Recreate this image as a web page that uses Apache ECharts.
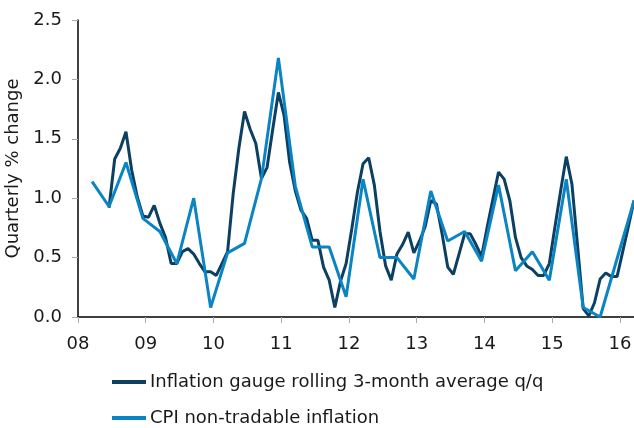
<!DOCTYPE html>
<html>
<head>
<meta charset="utf-8">
<script src="https://cdn.jsdelivr.net/npm/echarts@6/dist/echarts.min.js"></script>
<style>
  html, body { margin: 0; padding: 0; background: #fff; }
  #chart { width: 634px; height: 428px; }
</style>
</head>
<body>
<div id="chart"></div>
<script>
// ---- Data ----
const seriesNames = ['Inflation gauge rolling 3-month average q/q', 'CPI non-tradable inflation'];
const xTickYears = [2008, 2009, 2010, 2011, 2012, 2013, 2014, 2015, 2016];
const xTickLabels = ['08', '09', '10', '11', '12', '13', '14', '15', '16'];
const yTickLabels = ['0.0', '0.5', '1.0', '1.5', '2.0', '2.5'];

// Monthly, starting June 2008
const gaugeStart = { year: 2008, month: 6 };
const gaugeValues = [
  0.92, 1.33, 1.42, 1.56, 1.24, 1.01, 0.85, 0.84, 0.94, 0.79, 0.67, 0.45,
  0.45, 0.55, 0.575, 0.53, 0.45, 0.38, 0.38, 0.35, 0.45, 0.55, 1.04, 1.42,
  1.73, 1.58, 1.46, 1.165, 1.26, 1.58, 1.89, 1.70, 1.30, 1.06, 0.90, 0.83,
  0.645, 0.645, 0.42, 0.31, 0.08, 0.30, 0.45, 0.74, 1.05, 1.29, 1.34, 1.11,
  0.72, 0.43, 0.31, 0.53, 0.61, 0.715, 0.54, 0.64, 0.76, 0.98, 0.95, 0.70,
  0.42, 0.36, 0.53, 0.70, 0.70, 0.61, 0.51, 0.76, 0.99, 1.22, 1.16, 0.98,
  0.67, 0.50, 0.43, 0.40, 0.35, 0.35, 0.45, 0.76, 1.06, 1.35, 1.12, 0.60,
  0.07, 0.01, 0.12, 0.32, 0.37, 0.34, 0.34, 0.55, 0.76, 0.98
];

// Quarterly (Mar, Jun, Sep, Dec), starting March 2008
const cpiStart = { year: 2008, month: 3 };
const cpiValues = [
  1.14, 0.93, 1.30, 0.83,
  0.72, 0.45, 1.00, 0.08,
  0.54, 0.62, 1.165, 2.18,
  1.10, 0.59, 0.59, 0.17,
  1.16, 0.50, 0.50, 0.32,
  1.06, 0.64, 0.72, 0.47,
  1.11, 0.39, 0.55, 0.31,
  1.16, 0.08, 0.00, 0.49,
  0.98
];

// ---- Build ----
function toDecimal(year, month) { return year + (month - 0.5) / 12; }
function buildSeries(start, stepMonths, values) {
  return values.map((v, i) => {
    const m0 = start.month - 1 + i * stepMonths;
    const y = start.year + Math.floor(m0 / 12);
    const m = (m0 % 12) + 1;
    return [toDecimal(y, m), v];
  });
}
const gaugeData = buildSeries(gaugeStart, 1, gaugeValues);
const cpiData = buildSeries(cpiStart, 3, cpiValues);
const xMax = gaugeData[gaugeData.length - 1][0];

const FONT = 'DejaVu Sans';
const FS = 18;
const TXT = '#1a1a1a';
const DARK = '#0c4063';
const LIGHT = '#0a84c2';

function legendFor(name, top) {
  return {
    orient: 'horizontal',
    left: 112,
    top: top,
    padding: 0,
    icon: 'rect',
    itemWidth: 34,
    itemHeight: 4,
    data: [name],
    textStyle: { fontFamily: FONT, fontSize: FS, color: TXT, lineHeight: 20, padding: [0, 0, 0, -1] }
  };
}

const chart = echarts.init(document.getElementById('chart'), null, { renderer: 'canvas' });
chart.setOption({
  animation: false,
  backgroundColor: '#ffffff',
  textStyle: { fontFamily: FONT, color: TXT },
  grid: { left: 78, right: 0, top: 20, bottom: 111, containLabel: false, outerBoundsMode: 'none' },
  legend: [legendFor(seriesNames[0], 372), legendFor(seriesNames[1], 408)],
  xAxis: {
    type: 'value',
    min: 2008,
    max: xMax,
    interval: 1,
    splitLine: { show: false },
    axisLine: { show: true, onZero: false, lineStyle: { color: '#000', width: 1.5 } },
    axisTick: { show: true, customValues: xTickYears, length: 6, lineStyle: { color: '#aaa' } },
    axisLabel: {
      customValues: xTickYears,
      formatter: v => xTickLabels[xTickYears.indexOf(Math.round(v))] || '',
      fontFamily: FONT, fontSize: FS, color: TXT, margin: 18
    }
  },
  yAxis: {
    type: 'value',
    min: 0,
    max: 2.5,
    interval: 0.5,
    name: 'Quarterly % change',
    nameLocation: 'middle',
    nameGap: 50,
    nameTextStyle: { fontFamily: FONT, fontSize: FS, color: TXT },
    splitLine: { show: false },
    axisLine: { show: true, lineStyle: { color: '#000', width: 1.5 } },
    axisTick: { show: true, length: 6, lineStyle: { color: '#aaa' } },
    axisLabel: {
      formatter: v => yTickLabels[Math.round(v * 2)],
      fontFamily: FONT, fontSize: FS, color: TXT, margin: 16
    }
  },
  series: [
    {
      name: seriesNames[0],
      type: 'line',
      data: gaugeData,
      showSymbol: false,
      symbol: 'none',
      lineStyle: { color: DARK, width: 3 },
      itemStyle: { color: DARK }
    },
    {
      name: seriesNames[1],
      type: 'line',
      data: cpiData,
      showSymbol: false,
      symbol: 'none',
      lineStyle: { color: LIGHT, width: 3 },
      itemStyle: { color: LIGHT }
    }
  ]
});
</script>
</body>
</html>
